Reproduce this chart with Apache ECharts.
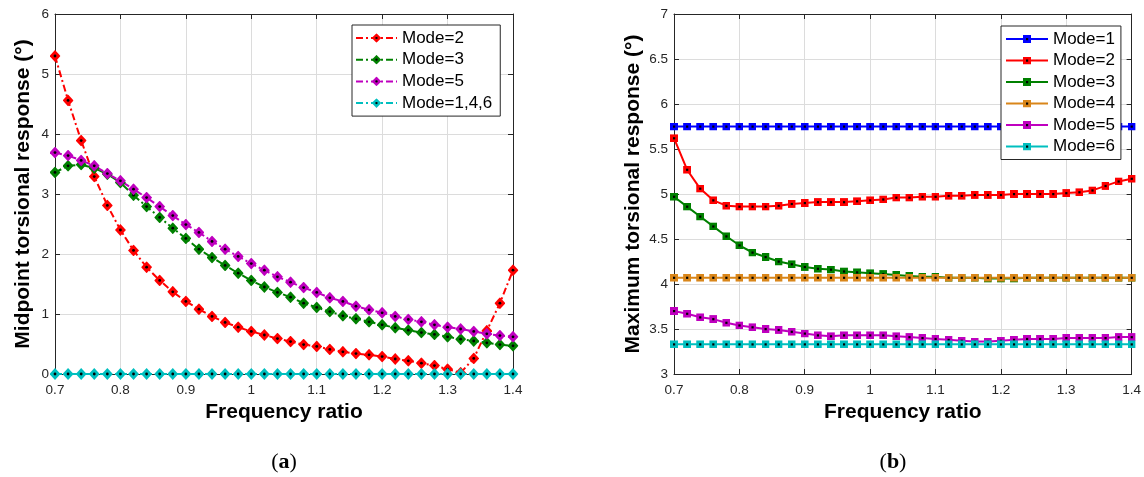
<!DOCTYPE html>
<html>
<head>
<meta charset="utf-8">
<script src="https://cdn.jsdelivr.net/npm/echarts@6/dist/echarts.min.js"></script>
<style>
html,body{margin:0;padding:0;background:#fff;}
#chart{width:1144px;height:477px;}
</style>
</head>
<body>
<div id="chart"></div>
<script>
// ---------- DATA ----------
const freqRatio = [0.70,0.72,0.74,0.76,0.78,0.80,0.82,0.84,0.86,0.88,0.90,0.92,0.94,0.96,0.98,1.00,1.02,1.04,1.06,1.08,1.10,1.12,1.14,1.16,1.18,1.20,1.22,1.24,1.26,1.28,1.30,1.32,1.34,1.36,1.38,1.40];

// (a) Midpoint torsional response (deg)
const midMode2   = [5.30,4.56,3.89,3.29,2.81,2.40,2.06,1.78,1.56,1.37,1.21,1.08,0.96,0.86,0.78,0.71,0.65,0.59,0.54,0.49,0.46,0.41,0.37,0.34,0.32,0.29,0.25,0.22,0.18,0.14,0.08,0.02,0.26,0.72,1.18,1.73];
const midMode3   = [3.36,3.47,3.49,3.43,3.33,3.19,2.98,2.79,2.61,2.43,2.26,2.08,1.94,1.81,1.68,1.56,1.45,1.36,1.28,1.18,1.11,1.04,0.97,0.92,0.87,0.82,0.77,0.73,0.69,0.66,0.62,0.58,0.55,0.52,0.49,0.47];
const midMode5   = [3.69,3.64,3.56,3.47,3.34,3.22,3.08,2.94,2.79,2.64,2.49,2.36,2.21,2.08,1.96,1.84,1.73,1.62,1.53,1.44,1.36,1.27,1.21,1.13,1.07,1.02,0.96,0.91,0.87,0.82,0.78,0.75,0.71,0.67,0.64,0.62];
const midMode146 = [0,0,0,0,0,0,0,0,0,0,0,0,0,0,0,0,0,0,0,0,0,0,0,0,0,0,0,0,0,0,0,0,0,0,0,0];

// (b) Maximum torsional response (deg)
const maxMode1 = [5.75,5.75,5.75,5.75,5.75,5.75,5.75,5.75,5.75,5.75,5.75,5.75,5.75,5.75,5.75,5.75,5.75,5.75,5.75,5.75,5.75,5.75,5.75,5.75,5.75,5.75,5.75,5.75,5.75,5.75,5.75,5.75,5.75,5.75,5.75,5.75];
const maxMode2 = [5.62,5.27,5.06,4.93,4.87,4.86,4.86,4.86,4.87,4.89,4.90,4.91,4.91,4.91,4.92,4.93,4.94,4.96,4.96,4.97,4.97,4.98,4.98,4.99,4.99,4.99,5.00,5.00,5.00,5.00,5.01,5.02,5.04,5.09,5.14,5.17];
const maxMode3 = [4.97,4.86,4.75,4.64,4.53,4.43,4.35,4.30,4.25,4.22,4.19,4.17,4.16,4.14,4.13,4.12,4.11,4.10,4.09,4.08,4.08,4.07,4.07,4.07,4.06,4.06,4.06,4.07,4.07,4.07,4.07,4.07,4.07,4.07,4.07,4.07];
const maxMode4 = [4.07,4.07,4.07,4.07,4.07,4.07,4.07,4.07,4.07,4.07,4.07,4.07,4.07,4.07,4.07,4.07,4.07,4.07,4.07,4.07,4.07,4.07,4.07,4.07,4.07,4.07,4.07,4.07,4.07,4.07,4.07,4.07,4.07,4.07,4.07,4.07];
const maxMode5 = [3.70,3.67,3.63,3.61,3.57,3.54,3.52,3.50,3.49,3.47,3.45,3.43,3.42,3.43,3.43,3.43,3.43,3.42,3.41,3.40,3.39,3.38,3.37,3.36,3.36,3.37,3.38,3.39,3.39,3.39,3.40,3.40,3.40,3.40,3.41,3.41];
const maxMode6 = [3.33,3.33,3.33,3.33,3.33,3.33,3.33,3.33,3.33,3.33,3.33,3.33,3.33,3.33,3.33,3.33,3.33,3.33,3.33,3.33,3.33,3.33,3.33,3.33,3.33,3.33,3.33,3.33,3.33,3.33,3.33,3.33,3.33,3.33,3.33,3.33];

const xTicks = [0.7,0.8,0.9,1,1.1,1.2,1.3,1.4];
const yTicksA = [0,1,2,3,4,5,6];
const yTicksB = [3,3.5,4,4.5,5,5.5,6,6.5,7];

const labelsA = ['Mode=2','Mode=3','Mode=5','Mode=1,4,6'];
const labelsB = ['Mode=1','Mode=2','Mode=3','Mode=4','Mode=5','Mode=6'];
const titleYA = 'Midpoint torsional response (°)';
const titleYB = 'Maximum torsional response (°)';
const titleX = 'Frequency ratio';

// ---------- STYLE ----------
const C = {red:'#ff0000', green:'#008000', magenta:'#bf00bf', cyan:'#00bfbf', blue:'#0000ff', orange:'#d9861a'};
const ink = '#262626';
const font = 'Liberation Sans, Arial, Helvetica, sans-serif';

function diamond(col){
  const s = "<svg xmlns='http://www.w3.org/2000/svg' width='11' height='12'><polygon points='5.5,0 11,6 5.5,12 0,6' fill='"+col+"'/><circle cx='5.5' cy='6' r='1.4' fill='black'/></svg>";
  return 'image://data:image/svg+xml;charset=utf-8,' + encodeURIComponent(s);
}
function square(col){
  const s = "<svg xmlns='http://www.w3.org/2000/svg' width='8' height='8'><rect x='0' y='0' width='8' height='8' fill='"+col+"'/><rect x='3' y='3' width='2.2' height='2.2' fill='black'/></svg>";
  return 'image://data:image/svg+xml;charset=utf-8,' + encodeURIComponent(s);
}
function pairs(ys){ return freqRatio.map((x,i)=>[x, ys[i]]); }

const fmtX = v => String(+v.toFixed(2));
const fmtY = v => String(+v.toFixed(2));
const stripPrefix = n => n.replace(/^[ab]:/, '');

const grids = [
  {left:55, top:14, width:458, height:360},
  {left:674, top:14, width:458, height:360}
];

function mkX(gi, pos){
  const main = pos === 'bottom';
  return {
    type:'value', gridIndex:gi, position:pos, min:0.7, max:1.4, interval:0.1,
    axisLine:{show:true, onZero:false, lineStyle:{color:ink, width:1}},
    axisTick:{show:true, inside:true, length:5, lineStyle:{color:ink}},
    axisLabel:{show:main, formatter:fmtX, color:ink, fontSize:13.5, fontFamily:font, margin:9},
    splitLine:{show:main, lineStyle:{color:'#dcdcdc', width:1}},
    name: main ? titleX : '', nameLocation:'middle', nameGap:28,
    nameTextStyle:{fontSize:21, fontWeight:'bold', color:'#000', fontFamily:font}
  };
}
function mkY(gi, pos, min, max, interval, title){
  const main = pos === 'left';
  return {
    type:'value', gridIndex:gi, position:pos, min:min, max:max, interval:interval,
    axisLine:{show:true, onZero:false, lineStyle:{color:ink, width:1}},
    axisTick:{show:true, inside:true, length:5, lineStyle:{color:ink}},
    axisLabel:{show:main, formatter:fmtY, color:ink, fontSize:13.5, fontFamily:font, margin:6},
    splitLine:{show:main, lineStyle:{color:'#dcdcdc', width:1}},
    name: main ? title : '', nameLocation:'middle', nameGap: gi===0 ? 21 : 30,
    nameTextStyle:{fontSize:21, fontWeight:'bold', color:'#000', fontFamily:font}
  };
}

const dashDot = [7,3,2,3];
function lineA(name, ys, col){
  return {
    name:'a:'+name, type:'line', xAxisIndex:0, yAxisIndex:0, data:pairs(ys),
    symbol:diamond(col), symbolSize:[11,12], showSymbol:true,
    lineStyle:{color:col, width:2, type:dashDot}, itemStyle:{color:col},
    emphasis:{disabled:true}, animation:false, z:3
  };
}
function lineB(name, ys, col){
  return {
    name:'b:'+name, type:'line', xAxisIndex:2, yAxisIndex:2, data:pairs(ys),
    symbol:square(col), symbolSize:[8,8], showSymbol:true,
    lineStyle:{color:col, width:2}, itemStyle:{color:col},
    emphasis:{disabled:true}, animation:false, z:3
  };
}

const option = {
  backgroundColor:'#ffffff',
  animation:false,
  grid: grids,
  xAxis:[mkX(0,'bottom'), mkX(0,'top'), mkX(1,'bottom'), mkX(1,'top')],
  yAxis:[mkY(0,'left',0,6,1,titleYA), mkY(0,'right',0,6,1,''), mkY(1,'left',3,7,0.5,titleYB), mkY(1,'right',3,7,0.5,'')],
  legend:[
    {
      data:labelsA.map(n=>({name:'a:'+n})), formatter:stripPrefix,
      orient:'vertical', left:352, top:25,
      backgroundColor:'#fff', borderColor:ink, borderWidth:1, borderRadius:0,
      padding:[3,8,3,3], itemGap:1.7, itemWidth:41, itemHeight:12, itemTextGap:5,
      textStyle:{fontSize:17, color:'#000', fontFamily:font, lineHeight:20},
      selectedMode:false
    },
    {
      data:labelsB.map(n=>({name:'b:'+n})), formatter:stripPrefix,
      orient:'vertical', left:1001, top:26,
      backgroundColor:'#fff', borderColor:ink, borderWidth:1, borderRadius:0,
      padding:[3,6,3,4], itemGap:1.5, itemWidth:42, itemHeight:10, itemTextGap:5,
      textStyle:{fontSize:17, color:'#000', fontFamily:font, lineHeight:20},
      selectedMode:false
    }
  ],
  series:[
    lineA(labelsA[0], midMode2, C.red),
    lineA(labelsA[1], midMode3, C.green),
    lineA(labelsA[2], midMode5, C.magenta),
    lineA(labelsA[3], midMode146, C.cyan),
    lineB(labelsB[0], maxMode1, C.blue),
    lineB(labelsB[1], maxMode2, C.red),
    lineB(labelsB[2], maxMode3, C.green),
    lineB(labelsB[3], maxMode4, C.orange),
    lineB(labelsB[4], maxMode5, C.magenta),
    lineB(labelsB[5], maxMode6, C.cyan)
  ],
  graphic:[
    {type:'text', x:284, y:462, silent:true, style:{
      text:'({b|a})', align:'center', verticalAlign:'middle',
      font:'22px "Liberation Serif", serif', fill:'#000',
      rich:{b:{fontWeight:'bold', fontSize:22, fontFamily:'Liberation Serif'}}
    }},
    {type:'text', x:893, y:462, silent:true, style:{
      text:'({b|b})', align:'center', verticalAlign:'middle',
      font:'22px "Liberation Serif", serif', fill:'#000',
      rich:{b:{fontWeight:'bold', fontSize:22, fontFamily:'Liberation Serif'}}
    }}
  ]
};

const chart = echarts.init(document.getElementById('chart'), null, {renderer:'canvas'});
chart.setOption(option);
</script>
</body>
</html>
